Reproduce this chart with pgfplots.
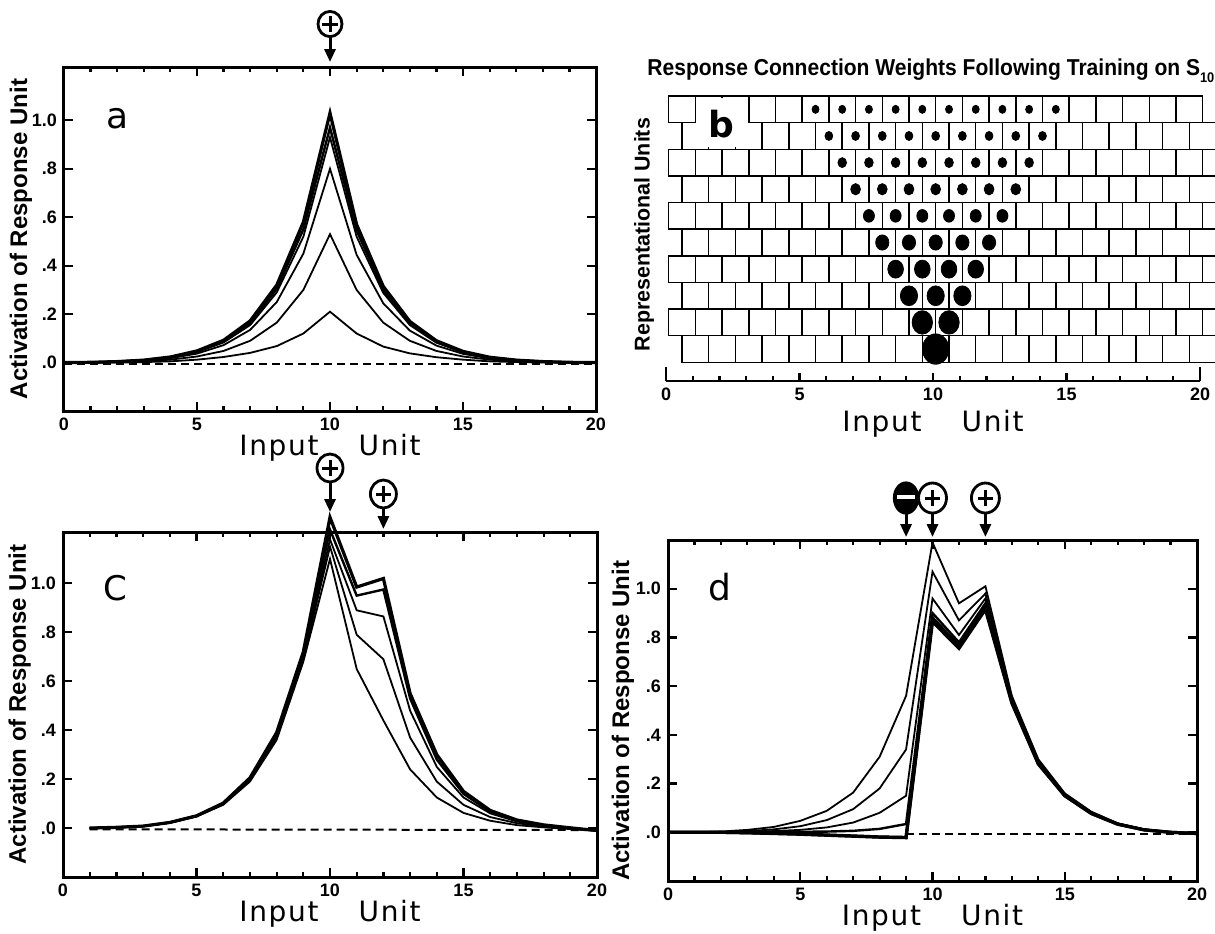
\documentclass[border=0pt]{standalone}
\usepackage{fontspec}
\usepackage{graphicx}
\setmainfont{Liberation Sans}
\newfontfamily\plotfont[LetterSpace=6]{DejaVu Sans}
\newfontfamily\letterfont{DejaVu Sans}
\usepackage{pgfplots}
\usepackage{pgfplotstable}
\pgfplotsset{compat=1.18}
\usetikzlibrary{arrows.meta}

% activation curves, panel a (training on S10)
\pgfplotstableread{
x  A1    A2    A3    A4    A5    A6
0  0     0     0     0     0     0
1  0     0     0.001 0.001 0.001 0.001
2  0     0.002 0.003 0.004 0.004 0.004
3  0.002 0.005 0.008 0.009 0.010 0.010
4  0.005 0.012 0.018 0.021 0.022 0.023
5  0.012 0.025 0.037 0.043 0.045 0.048
6  0.023 0.048 0.072 0.083 0.087 0.092
7  0.040 0.090 0.135 0.155 0.163 0.172
8  0.068 0.165 0.250 0.290 0.305 0.320
9  0.120 0.300 0.450 0.520 0.550 0.580
10 0.210 0.530 0.800 0.930 0.970 1.030
11 0.120 0.300 0.445 0.520 0.545 0.570
12 0.066 0.165 0.245 0.288 0.300 0.315
13 0.038 0.090 0.132 0.155 0.162 0.170
14 0.022 0.048 0.070 0.082 0.086 0.090
15 0.012 0.025 0.036 0.042 0.044 0.046
16 0.005 0.012 0.017 0.020 0.021 0.022
17 0.002 0.005 0.008 0.009 0.010 0.010
18 0     0.002 0.003 0.004 0.004 0.004
19 0     0     0.001 0.001 0.001 0.001
20 0     0     0     0     0     0
}\dataA

% panel c (S10 and S12)
\pgfplotstableread{
x  C1     C2     C3     C4     C5
1  0      0      0      0      0
2  0.003  0.003  0.003  0.003  0.003
3  0.008  0.008  0.008  0.008  0.008
4  0.021  0.022  0.022  0.023  0.023
5  0.047  0.048  0.049  0.050  0.050
6  0.095  0.097  0.099  0.100  0.102
7  0.190  0.195  0.198  0.200  0.205
8  0.360  0.370  0.375  0.380  0.390
9  0.680  0.690  0.700  0.710  0.720
10 1.100  1.150  1.180  1.220  1.270
11 0.650  0.790  0.890  0.950  0.985
12 0.440  0.690  0.865  0.975  1.020
13 0.240  0.370  0.480  0.530  0.550
14 0.125  0.190  0.250  0.280  0.300
15 0.062  0.095  0.125  0.140  0.150
16 0.030  0.045  0.060  0.067  0.072
17 0.012  0.020  0.027  0.030  0.033
18 0.003  0.006  0.010  0.012  0.013
19 -0.004 -0.003 -0.002 0.000  0.001
20 -0.010 -0.010 -0.010 -0.010 -0.010
}\dataC

% panel d (S9 negative, S10 and S12 positive)
\pgfplotstableread{
x  D1     D2     D3     D4     D5     D6
0  0      0      0      0      0      0
1  0      0      0      0      0      0
2  0.003  0.001  0      0      0      0
3  0.010  0.005  0.002  0      -0.002 -0.002
4  0.022  0.012  0.005  0.001  -0.004 -0.005
5  0.047  0.025  0.010  0.002  -0.007 -0.008
6  0.088  0.050  0.020  0.003  -0.011 -0.012
7  0.163  0.095  0.040  0.006  -0.015 -0.016
8  0.310  0.180  0.080  0.014  -0.019 -0.020
9  0.560  0.340  0.150  0.034  -0.021 -0.022
10 1.190  1.070  0.960  0.900  0.880  0.865
11 0.940  0.870  0.810  0.780  0.765  0.755
12 1.010  0.980  0.960  0.940  0.925  0.915
13 0.560  0.555  0.550  0.545  0.535  0.530
14 0.300  0.295  0.290  0.287  0.283  0.280
15 0.160  0.158  0.155  0.153  0.151  0.150
16 0.085  0.083  0.081  0.080  0.078  0.077
17 0.037  0.036  0.035  0.034  0.034  0.033
18 0.012  0.012  0.011  0.011  0.010  0.010
19 0      0      0      0      0      0
20 -0.005 -0.005 -0.005 -0.005 -0.005 -0.005
}\dataD

% cell edges of one row of representational units (two square waves)
\pgfplotstableread{
x  a b
0  0 1
0  1 0
1  0 1
2  1 0
3  0 1
4  1 0
5  0 1
6  1 0
7  0 1
8  1 0
9  0 1
10 1 0
11 0 1
12 1 0
13 0 1
14 1 0
15 0 1
16 1 0
17 0 1
18 1 0
19 0 1
20 1 0
}\cells

\pgfplotsset{
  actplot/.style={
    scale only axis, anchor=south west, clip=false,
    xmin=0, xmax=20, ymin=-0.2, ymax=1.2,
    xtick={0,5,10,15,20}, xticklabels={0,5,10,15,20}, minor x tick num=4,
    ytick={0,0.2,0.4,0.6,0.8,1.0}, yticklabels={.0,.2,.4,.6,.8,1.0},
    axis line style={line width=1.5pt},
    tick style={black, line width=1.1pt},
    major tick length=4.5pt, minor tick length=2.5pt,
    tick align=inside,
    tick label style={font=\fontsize{9}{10}\selectfont\bfseries},
    xlabel={Input\hspace{20pt}Unit},
    xlabel style={font=\plotfont\fontsize{14}{15}\selectfont, yshift=5pt},
    ylabel={Activation of Response Unit},
    ylabel style={font=\fontsize{12}{14}\selectfont\bfseries, at={(rel axis cs:-0.081,0.5)}, anchor=center},
  },
  thin curve/.style={black, line width=0.9pt, mark=none},
  mid curve/.style={black, line width=1.2pt, mark=none},
  thick curve/.style={black, line width=1.6pt, mark=none},
  dash line/.style={black, line width=1pt, dash pattern=on 4pt off 2.5pt, mark=none},
  cell line/.style={black, line width=0.75pt, mark=none, const plot},
  dot/.style={black, only marks, mark=*, mark options={yscale=1.15}},
}

% circled sign with an arrow onto the box top: x, top y, centre height, tip height
\def\mrx{6pt}\def\mry{6.3pt}
\newcommand{\posmark}[4]{%
  \draw[line width=1.5pt, -{Triangle[length=6.5pt,width=5.5pt]}] ([yshift=#3-\mry]axis cs:#1,#2) -- ([yshift=#4]axis cs:#1,#2);
  \draw[line width=1.4pt, fill=white] ([yshift=#3]axis cs:#1,#2) ellipse [x radius=\mrx, y radius=\mry];
  \draw[line width=1.5pt] ([yshift=#3, xshift=-3.8pt]axis cs:#1,#2) -- ([yshift=#3, xshift=3.8pt]axis cs:#1,#2);
  \draw[line width=1.5pt] ([yshift=#3-4pt]axis cs:#1,#2) -- ([yshift=#3+4pt]axis cs:#1,#2);
}
\newcommand{\negmark}[4]{%
  \draw[line width=1.5pt, -{Triangle[length=6.5pt,width=5.5pt]}] ([yshift=#3-\mry]axis cs:#1,#2) -- ([yshift=#4]axis cs:#1,#2);
  \fill[black] ([yshift=#3]axis cs:#1,#2) ellipse [x radius=6.6pt, y radius=8.3pt];
  \draw[white, line width=1.8pt] ([yshift=#3+0.5pt, xshift=-4.5pt]axis cs:#1,#2) -- ([yshift=#3+0.5pt, xshift=4.5pt]axis cs:#1,#2);
}

\begin{document}
\begin{tikzpicture}
\path[use as bounding box] (0,0) rectangle (607.5pt,-466.5pt);

% ---- a ----
\begin{axis}[actplot, at={(32pt,-205.5pt)}, width=266pt, height=172pt, ymax=1.22]
  \addplot[dash line] coordinates {(0,-0.005) (20,-0.005)};
  \addplot[thin curve] table[x=x, y=A1] {\dataA};
  \addplot[thin curve] table[x=x, y=A2] {\dataA};
  \addplot[thin curve] table[x=x, y=A3] {\dataA};
  \addplot[thin curve] table[x=x, y=A4] {\dataA};
  \addplot[mid curve] table[x=x, y=A5] {\dataA};
  \addplot[thick curve] table[x=x, y=A6] {\dataA};
  \node[anchor=base, font=\letterfont\fontsize{18}{20}\selectfont] at (axis cs:2.0,0.967) {a};
  \posmark{10}{1.22}{21.5pt}{2.5pt}
\end{axis}

% ---- b ----
\begin{axis}[scale only axis, anchor=south west, clip=false,
  at={(333pt,-190.5pt)}, width=267pt, height=142.5pt,
  xmin=0, xmax=20, ymin=-0.7, ymax=10,
  axis x line*=bottom, axis y line=none,
  axis line style={line width=1.3pt},
  xtick={0,5,10,15,20}, xticklabels={0,5,10,15,20}, minor x tick num=4,
  extra x ticks={0,20}, extra x tick labels={}, extra x tick style={major tick length=7pt},
  tick align=inside, tick style={black, line width=1.1pt},
  major tick length=4pt, minor tick length=2.5pt,
  tick label style={font=\fontsize{9}{10}\selectfont\bfseries},
  xlabel={Input\hspace{20pt}Unit},
  xlabel style={font=\plotfont\fontsize{14}{15}\selectfont, yshift=2pt},
  ]
  \pgfplotsinvokeforeach{9,7,5,3,1}{
    \addplot[cell line] table[x expr=\thisrow{x}+0.1, y expr=\thisrow{a}+#1] {\cells};
    \addplot[cell line] table[x expr=\thisrow{x}+0.1, y expr=\thisrow{b}+#1] {\cells};
  }
  \pgfplotsinvokeforeach{8,6,4,2,0}{
    \addplot[cell line] table[x expr=\thisrow{x}+0.6, y expr=\thisrow{a}+#1] {\cells};
    \addplot[cell line] table[x expr=\thisrow{x}+0.6, y expr=\thisrow{b}+#1] {\cells};
  }
  \fill[white] (axis cs:1.14,9.94) rectangle (axis cs:3.06,8.9);
  \fill[white] (axis cs:0.64,9.0) rectangle (axis cs:3.56,8.07);
  \node[anchor=base, font=\letterfont\bfseries\fontsize{18}{20}\selectfont] at (axis cs:2.06,8.43) {b};
  \addplot[dot, mark size=1.75pt] coordinates {(5.6,9.5) (6.6,9.5) (7.6,9.5) (8.6,9.5) (9.6,9.5) (10.6,9.5) (11.6,9.5) (12.6,9.5) (13.6,9.5) (14.6,9.5)};
  \addplot[dot, mark size=1.95pt] coordinates {(6.1,8.5) (7.1,8.5) (8.1,8.5) (9.1,8.5) (10.1,8.5) (11.1,8.5) (12.1,8.5) (13.1,8.5) (14.1,8.5)};
  \addplot[dot, mark size=2.15pt] coordinates {(6.6,7.5) (7.6,7.5) (8.6,7.5) (9.6,7.5) (10.6,7.5) (11.6,7.5) (12.6,7.5) (13.6,7.5)};
  \addplot[dot, mark size=2.45pt] coordinates {(7.1,6.5) (8.1,6.5) (9.1,6.5) (10.1,6.5) (11.1,6.5) (12.1,6.5) (13.1,6.5)};
  \addplot[dot, mark size=2.75pt] coordinates {(7.6,5.5) (8.6,5.5) (9.6,5.5) (10.6,5.5) (11.6,5.5) (12.6,5.5)};
  \addplot[dot, mark size=3.3pt] coordinates {(8.1,4.5) (9.1,4.5) (10.1,4.5) (11.1,4.5) (12.1,4.5)};
  \addplot[dot, mark size=3.9pt] coordinates {(8.6,3.5) (9.6,3.5) (10.6,3.5) (11.6,3.5)};
  \addplot[dot, mark size=4.3pt] coordinates {(9.1,2.5) (10.1,2.5) (11.1,2.5)};
  \addplot[dot, mark size=5.1pt] coordinates {(9.6,1.5) (10.6,1.5)};
  \addplot[dot, mark size=6.6pt] coordinates {(10.1,0.5)};
  \node[rotate=90, font=\fontsize{10.7}{12}\selectfont\bfseries] at (rel axis cs:-0.041,0.514) {Representational Units};
  \node[anchor=base, font=\fontsize{11.5}{12}\selectfont\bfseries] at ([yshift=10.5pt]rel axis cs:0.496,1)
    {\scalebox{0.915}[1]{Response Connection Weights Following Training on S\raisebox{-3.5pt}{\fontsize{7}{7}\selectfont 10}}};
\end{axis}

% ---- c ----
\begin{axis}[actplot, at={(31.5pt,-438.5pt)}, width=267pt, height=172.5pt, ymax=1.21]
  \addplot[dash line] coordinates {(1,-0.005) (20,-0.008)};
  \addplot[thin curve] table[x=x, y=C1] {\dataC};
  \addplot[thin curve] table[x=x, y=C2] {\dataC};
  \addplot[thin curve] table[x=x, y=C3] {\dataC};
  \addplot[mid curve] table[x=x, y=C4] {\dataC};
  \addplot[thick curve] table[x=x, y=C5] {\dataC};
  \node[anchor=base, font=\letterfont\fontsize{17}{20}\selectfont] at (axis cs:1.95,0.93) {C};
  \def\mrx{6.5pt}\def\mry{7pt}
  \posmark{10}{1.21}{32pt}{10pt}
  \posmark{12}{1.21}{19pt}{1.5pt}
\end{axis}

% ---- d ----
\begin{axis}[actplot, at={(334pt,-440.5pt)}, width=264.5pt, height=170.5pt,
  ylabel style={at={(rel axis cs:-0.085,0.47)}}]
  \addplot[dash line] coordinates {(9,-0.005) (20,-0.005)};
  \addplot[thin curve] table[x=x, y=D1] {\dataD};
  \addplot[thin curve] table[x=x, y=D2] {\dataD};
  \addplot[thin curve] table[x=x, y=D3] {\dataD};
  \addplot[mid curve] table[x=x, y=D4] {\dataD};
  \addplot[thick curve] table[x=x, y=D5] {\dataD};
  \addplot[thick curve] table[x=x, y=D6] {\dataD};
  \node[anchor=base, font=\letterfont\fontsize{18}{20}\selectfont] at (axis cs:1.97,0.95) {d};
  \def\mrx{7pt}\def\mry{7.5pt}
  \negmark{9}{1.2}{21pt}{1.5pt}
  \posmark{10}{1.2}{21pt}{1.5pt}
  \posmark{12}{1.2}{21pt}{1.5pt}
\end{axis}
\end{tikzpicture}
\end{document}
